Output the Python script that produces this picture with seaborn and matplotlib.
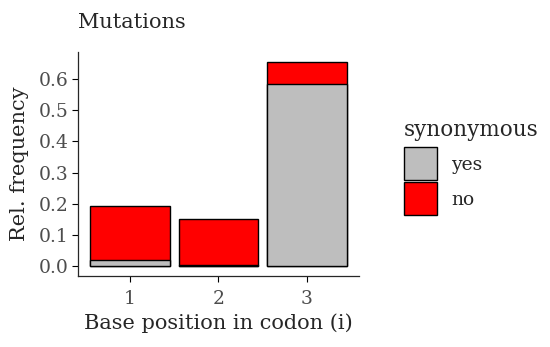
import pandas as pd
import matplotlib.pyplot as plt
import seaborn as sns
from matplotlib.patches import Patch

# data
positions = ["1", "2", "3"]
yes_freq = [0.02, 0.002, 0.585]
no_freq = [0.173, 0.148, 0.07]

df = pd.DataFrame({"position": positions, "yes": yes_freq, "no": no_freq})
df["total"] = df["yes"] + df["no"]

sns.set_theme(style="ticks")
plt.rcParams["font.family"] = ["DejaVu Serif"]

fig = plt.figure(figsize=(5.5, 3.47), dpi=100)
ax = fig.add_axes([0.1418, 0.2046, 0.5109, 0.6454])

# stacked bars: total in red, "yes" in grey drawn over the bottom
sns.barplot(data=df, x="position", y="total", color="#ff0000", width=0.9,
            edgecolor="black", linewidth=1.0, saturation=1, ax=ax)
sns.barplot(data=df, x="position", y="yes", color="#bebebe", width=0.9,
            edgecolor="black", linewidth=1.0, saturation=1, ax=ax)

ax.set_xlim(-0.59, 2.59)
ax.set_ylim(-0.032, 0.687)
ax.set_yticks([0, 0.1, 0.2, 0.3, 0.4, 0.5, 0.6])
ax.set_yticklabels(["0.0", "0.1", "0.2", "0.3", "0.4", "0.5", "0.6"])
ax.tick_params(labelsize=13.5, colors="black", labelcolor="#4d4d4d",
               length=4, width=0.8, pad=3)
ax.tick_params(axis="x", pad=6)
for s in ["top", "right"]:
    ax.spines[s].set_visible(False)
for s in ["left", "bottom"]:
    ax.spines[s].set_linewidth(0.9)

ax.set_xlabel("Base position in codon (i)", fontsize=15, labelpad=4)
ax.set_ylabel("Rel. frequency", fontsize=15, labelpad=7)
fig.text(0.1418, 0.934, "Mutations", fontsize=15, ha="left", va="center")

handles = [Patch(facecolor="#bebebe", edgecolor="black", linewidth=1.0),
           Patch(facecolor="#ff0000", edgecolor="black", linewidth=1.0)]
leg = fig.legend(handles, ["yes", "no"], title="synonymous",
                 loc="upper left", bbox_to_anchor=(0.72, 0.68),
                 frameon=False, fontsize=13.5, title_fontsize=15.5,
                 handlelength=1.76, handleheight=2.33, handletextpad=0.8,
                 labelspacing=0.1, borderaxespad=0)
leg._legend_box.align = "left"
leg._legend_box.sep = 5

fig.savefig("out.png", dpi=100)
